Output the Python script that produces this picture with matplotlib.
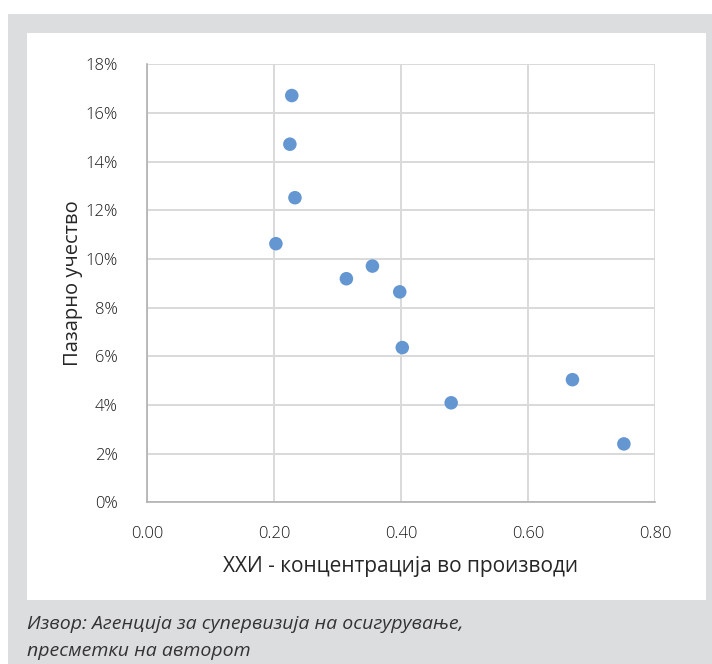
import matplotlib.pyplot as plt
from matplotlib.patches import Rectangle
from matplotlib.ticker import FuncFormatter

# HHI concentration vs market share
hhi = [0.228, 0.225, 0.233, 0.203, 0.314, 0.355, 0.398, 0.402, 0.479, 0.670, 0.751]
market_share = [16.72, 14.72, 12.52, 10.63, 9.19, 9.71, 8.65, 6.36, 4.09, 5.04, 2.40]

x_ticks = [0.0, 0.2, 0.4, 0.6, 0.8]
y_ticks = [0, 2, 4, 6, 8, 10, 12, 14, 16, 18]

x_label = "ХХИ - концентрација во производи"
y_label = "Пазарно учество"
source_lines = ["Извор: Агенција за супервизија на осигурување,",
                "пресметки на авторот"]

plt.rcParams['font.family'] = ['Open Sans', 'DejaVu Sans']

W, H = 712, 664
fig = plt.figure(figsize=(W / 100, H / 100), dpi=100)
fig.patch.set_facecolor('white')

# grey frame and white chart panel (pixel coords -> figure fraction)
def px_rect(x0, y0, x1, y1, color):
    fig.patches.append(Rectangle((x0 / W, 1 - y1 / H), (x1 - x0) / W, (y1 - y0) / H,
                                 transform=fig.transFigure, facecolor=color,
                                 edgecolor='none', zorder=-5))

px_rect(8, 14, 712, 664, '#dcdddf')
px_rect(27, 33, 706, 600, 'white')

ax = fig.add_axes([147 / W, 1 - 502.3 / H, 508 / W, 437.9 / H])
ax.set_facecolor('none')

ax.scatter(hhi, market_share, s=95, color='#6497d2', edgecolors='none', zorder=3)

ax.set_xlim(0, 0.8)
ax.set_ylim(0, 18)
ax.set_xticks(x_ticks)
ax.set_yticks(y_ticks)
ax.xaxis.set_major_formatter(FuncFormatter(lambda v, p: f"{v:.2f}"))
ax.yaxis.set_major_formatter(FuncFormatter(lambda v, p: f"{v:.0f}%"))

ax.grid(True, color='#d9d9d9', linewidth=1.4, zorder=0)
ax.set_axisbelow(True)
for side in ['top', 'right']:
    ax.spines[side].set_visible(False)
for side in ['left', 'bottom']:
    ax.spines[side].set_color('#b0b0b0')
    ax.spines[side].set_linewidth(1.2)

ax.tick_params(axis='both', length=0, labelsize=12, colors='#1a1a1a')
for lbl in ax.get_xticklabels() + ax.get_yticklabels():
    lbl.set_fontweight('light')
ax.tick_params(axis='x', pad=17)
ax.tick_params(axis='y', pad=21)

ax.set_xlabel(x_label, fontsize=15, color='#262626', labelpad=10)
ax.set_ylabel(y_label, fontsize=14.5, color='#262626', labelpad=2)

fig.text(27 / W, 1 - 624 / H, source_lines[0], fontsize=14, style='italic',
         color='#333333', va='center', ha='left')
fig.text(27 / W, 1 - 651 / H, source_lines[1], fontsize=14, style='italic',
         color='#333333', va='center', ha='left')

fig.savefig('out.png', dpi=100)
